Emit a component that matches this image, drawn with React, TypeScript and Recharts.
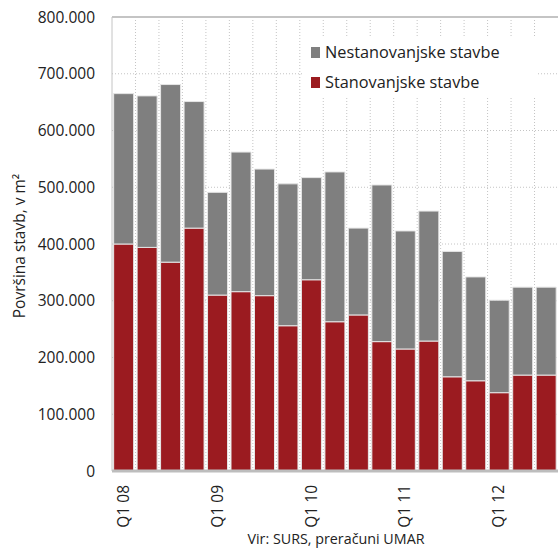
import { Bar, BarChart, CartesianGrid, XAxis, YAxis } from "recharts"

const quarters = [
  "Q1 08", "Q2 08", "Q3 08", "Q4 08",
  "Q1 09", "Q2 09", "Q3 09", "Q4 09",
  "Q1 10", "Q2 10", "Q3 10", "Q4 10",
  "Q1 11", "Q2 11", "Q3 11", "Q4 11",
  "Q1 12", "Q2 12", "Q3 12",
]

const residential = [
  400000, 394000, 368000, 428000, 310000, 316000, 309000, 256000, 337000, 263000,
  275000, 228000, 215000, 229000, 166000, 159000, 138000, 169000, 169000,
]

const nonResidential = [
  265000, 267000, 313000, 223000, 181000, 246000, 223000, 250000, 180000, 264000,
  153000, 276000, 208000, 229000, 221000, 183000, 163000, 155000, 155000,
]

const yTicks = [0, 100000, 200000, 300000, 400000, 500000, 600000, 700000, 800000]

const data = quarters.map((q, i) => ({
  q,
  stan: residential[i],
  nestan: nonResidential[i],
}))

const FONT = "'Open Sans', sans-serif"
const RED = "#9b1b20"
const GREY = "#7f7f7f"

const fmt = (v: number) => v.toLocaleString("de-DE")

function QuarterTick(props: any) {
  const { x, y, payload } = props
  if (!payload.value.startsWith("Q1")) return null
  return (
    <g transform={`translate(${x},${y})`}>
      <text
        transform="rotate(-90)"
        x={-14}
        dy={5}
        textAnchor="end"
        fontSize={15.5}
        fontFamily={FONT}
        fill="#222"
      >
        {payload.value}
      </text>
    </g>
  )
}

function LegendBox() {
  const items = [
    { label: "Nestanovanjske stavbe", color: GREY },
    { label: "Stanovanjske stavbe", color: RED },
  ]
  return (
    <div
      style={{
        position: "absolute",
        left: 303,
        top: 36,
        background: "#fff",
        width: 234,
        height: 62,
        paddingTop: 1,
        boxSizing: "border-box",
      }}
    >
      {items.map((it) => (
        <div key={it.label} style={{ display: "flex", alignItems: "center", height: 30, paddingLeft: 8 }}>
          <span style={{ width: 9, height: 11, background: it.color, marginRight: 5, display: "inline-block" }} />
          <span style={{ fontFamily: FONT, fontSize: 16.3, color: "#222" }}>{it.label}</span>
        </div>
      ))}
    </div>
  )
}

export default function App() {
  const n = quarters.length
  return (
    <div style={{ position: "absolute", left: 0, top: 0, width: 558, height: 549, background: "#fff" }}>
      <BarChart
        width={558}
        height={549}
        data={data}
        margin={{ top: 17, right: 0, left: 0, bottom: 0 }}
        barCategoryGap="7%"
      >
        <CartesianGrid
          stroke="#c4c4c4"
          strokeDasharray="1 2"
          verticalCoordinatesGenerator={({ offset }: any) =>
            quarters.slice(1).map((_, i) => offset.left + ((i + 1) * offset.width) / n)
          }
        />
        <XAxis
          dataKey="q"
          interval={0}
          height={78}
          tickSize={0}
          tickMargin={0}
          tick={<QuarterTick />}
          axisLine={{ stroke: "#bdbdbd", strokeWidth: 3 }}
          tickLine={false}
        />
        <YAxis
          width={112}
          domain={[0, 800000]}
          ticks={yTicks}
          tickFormatter={fmt}
          tickSize={0}
          tickMargin={17}
          tickLine={false}
          axisLine={{ stroke: "#c4c4c4" }}
          tick={{ fontSize: 15.5, fontFamily: FONT, fill: "#222" }}
          label={{
            value: "Površina stavb, v m²",
            angle: -90,
            position: "insideLeft",
            dx: 14,
            dy: 2,
            style: { fontSize: 15.5, fontFamily: FONT, fill: "#222", textAnchor: "middle" },
          }}
        />
        <Bar dataKey="stan" stackId="a" fill={RED} stroke="#e6e6e6" strokeWidth={1} isAnimationActive={false} />
        <Bar dataKey="nestan" stackId="a" fill={GREY} stroke="#e6e6e6" strokeWidth={1} isAnimationActive={false} />
      </BarChart>
      <svg style={{ position: "absolute", left: 0, top: 16, pointerEvents: "none" }} width={558} height={2}>
        <line x1={112} x2={558} y1={1} y2={1} stroke="#c4c4c4" strokeWidth={2} />
      </svg>
      <LegendBox />
      <div
        style={{
          position: "absolute",
          left: 113,
          width: 446,
          top: 529,
          textAlign: "center",
          fontFamily: FONT,
          fontSize: 14.3,
          color: "#222",
        }}
      >
        Vir: SURS, preračuni UMAR
      </div>
    </div>
  )
}
